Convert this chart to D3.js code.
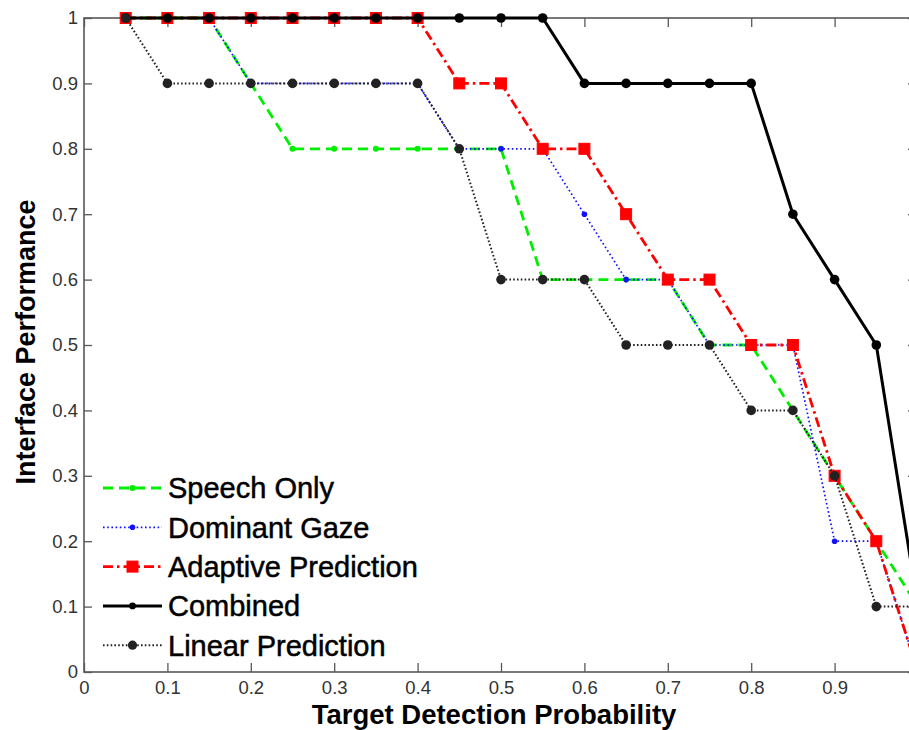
<!DOCTYPE html>
<html>
<head>
<meta charset="utf-8">
<script src="https://cdn.jsdelivr.net/npm/d3@7"></script>
<style>
  html, body { margin: 0; padding: 0; background: #fff; overflow: hidden; }
  svg { display: block; }
</style>
</head>
<body>
<svg id="chart" width="909" height="730"></svg>
<script>
// Target detection probability (x) and interface performance (y) per method
const probability = [0.05, 0.1, 0.15, 0.2, 0.25, 0.3, 0.35, 0.4, 0.45, 0.5,
                     0.55, 0.6, 0.65, 0.7, 0.75, 0.8, 0.85, 0.9, 0.95, 1.0];

const speechOnly        = [1, 1, 1, 0.9, 0.8, 0.8, 0.8, 0.8, 0.8, 0.8,
                           0.6, 0.6, 0.6, 0.6, 0.5, 0.5, 0.4, 0.3, 0.2, 0.1];
const dominantGaze      = [1, 1, 1, 0.9, 0.9, 0.9, 0.9, 0.9, 0.8, 0.8,
                           0.8, 0.7, 0.6, 0.6, 0.5, 0.5, 0.5, 0.2, 0.2, 0];
const adaptivePrediction= [1, 1, 1, 1, 1, 1, 1, 1, 0.9, 0.9,
                           0.8, 0.8, 0.7, 0.6, 0.6, 0.5, 0.5, 0.3, 0.2, 0];
const combined          = [1, 1, 1, 1, 1, 1, 1, 1, 1, 1,
                           1, 0.9, 0.9, 0.9, 0.9, 0.9, 0.7, 0.6, 0.5, 0.1];
const linearPrediction  = [1, 0.9, 0.9, 0.9, 0.9, 0.9, 0.9, 0.9, 0.8, 0.6,
                           0.6, 0.6, 0.5, 0.5, 0.5, 0.4, 0.4, 0.3, 0.1, 0.1];

const seriesNames = ["Speech Only", "Dominant Gaze", "Adaptive Prediction", "Combined", "Linear Prediction"];

const xTicks = [0, 0.1, 0.2, 0.3, 0.4, 0.5, 0.6, 0.7, 0.8, 0.9, 1];
const xTickLabels = ["0", "0.1", "0.2", "0.3", "0.4", "0.5", "0.6", "0.7", "0.8", "0.9", ""];
const yTicks = [0, 0.1, 0.2, 0.3, 0.4, 0.5, 0.6, 0.7, 0.8, 0.9, 1];
const yTickLabels = ["0", "0.1", "0.2", "0.3", "0.4", "0.5", "0.6", "0.7", "0.8", "0.9", "1"];

const xLabel = "Target Detection Probability";
const yLabel = "Interface Performance";

// Line/marker styling for each method
const styles = [
  { color: "#00ee00", width: 2.8, dash: "10,6",       marker: "dot",    size: 3.0, legendSize: 3.0 },
  { color: "#1010ff", width: 1.7, dash: "1.6,2.6",    marker: "dot",    size: 2.8, legendSize: 2.8 },
  { color: "#ff0000", width: 2.8, dash: "10,4,2.5,4", marker: "square", size: 11,  legendSize: 11 },
  { color: "#000000", width: 3.0, dash: null,         marker: "circle", size: 4.8, legendSize: 3.4 },
  { color: "#222222", width: 2.0, dash: "1.6,2.2",    marker: "circle", size: 4.8, legendSize: 4.6 }
];
const seriesValues = [speechOnly, dominantGaze, adaptivePrediction, combined, linearPrediction];

(function drawChart() {
  const svg = d3.select("#chart");
  const plotLeft = 84, plotRight = 918, plotTop = 18, plotBottom = 672;

  const x = d3.scaleLinear().domain([0, 1]).range([plotLeft, plotRight]);
  const y = d3.scaleLinear().domain([0, 1]).range([plotBottom, plotTop]);

  const font = "'Liberation Sans', Arial, Helvetica, sans-serif";
  const axisColor = "#585858";

  // Axes box with inward ticks on all four sides
  function styleAxis(g) {
    g.selectAll(".domain").remove();
    g.selectAll(".tick line").attr("stroke", axisColor).attr("stroke-width", 1.3);
    g.selectAll(".tick text")
      .attr("fill", "#333")
      .style("font-family", font)
      .style("font-size", "18.5px");
  }

  svg.append("rect")
    .attr("x", plotLeft).attr("y", plotTop)
    .attr("width", plotRight - plotLeft).attr("height", plotBottom - plotTop)
    .attr("fill", "none").attr("stroke", axisColor).attr("stroke-width", 1.6);

  svg.append("g")
    .attr("transform", `translate(0,${plotBottom})`)
    .call(d3.axisBottom(x).tickValues(xTicks).tickSizeInner(-9).tickSizeOuter(0)
          .tickPadding(9).tickFormat((d, i) => xTickLabels[i]))
    .call(styleAxis);

  svg.append("g")
    .attr("transform", `translate(0,${plotTop})`)
    .call(d3.axisTop(x).tickValues(xTicks).tickSizeInner(-9).tickSizeOuter(0).tickFormat(""))
    .call(styleAxis);

  svg.append("g")
    .attr("transform", `translate(${plotLeft},0)`)
    .call(d3.axisLeft(y).tickValues(yTicks).tickSizeInner(-8).tickSizeOuter(0)
          .tickPadding(6).tickFormat((d, i) => yTickLabels[i]))
    .call(styleAxis);

  svg.append("g")
    .attr("transform", `translate(${plotRight},0)`)
    .call(d3.axisRight(y).tickValues(yTicks).tickSizeInner(-10).tickSizeOuter(0).tickFormat(""))
    .call(styleAxis);

  // Axis titles
  svg.append("text")
    .attr("x", 494).attr("y", 724)
    .attr("text-anchor", "middle")
    .style("font-family", font).style("font-size", "27.5px").style("font-weight", "bold")
    .attr("fill", "#000")
    .text(xLabel);

  svg.append("text")
    .attr("transform", "translate(35,342) rotate(-90)")
    .attr("text-anchor", "middle")
    .style("font-family", font).style("font-size", "27px").style("font-weight", "bold")
    .attr("fill", "#000")
    .text(yLabel);

  // Marker drawing helper
  function drawMarker(g, type, cx, cy, size, color) {
    if (type === "square") {
      g.append("rect")
        .attr("x", cx - size / 2).attr("y", cy - size / 2)
        .attr("width", size).attr("height", size)
        .attr("fill", color).attr("stroke", color).attr("stroke-width", 1);
    } else {
      g.append("circle")
        .attr("cx", cx).attr("cy", cy).attr("r", size)
        .attr("fill", color);
    }
  }

  const line = d3.line().x(d => x(d[0])).y(d => y(d[1]));

  seriesValues.forEach((vals, i) => {
    const st = styles[i];
    const pts = probability.map((p, j) => [p, vals[j]]);
    const g = svg.append("g");
    g.append("path")
      .datum(pts)
      .attr("d", line)
      .attr("fill", "none")
      .attr("stroke", st.color)
      .attr("stroke-width", st.width)
      .attr("stroke-dasharray", st.dash)
      .attr("stroke-linejoin", "round");
    pts.forEach(p => drawMarker(g, st.marker, x(p[0]), y(p[1]), st.size, st.color));
  });

  // Legend
  const legend = svg.append("g");
  const legendX0 = 103, legendX1 = 162, legendTextX = 168;
  const legendY0 = 488, legendStep = 39.3;
  seriesNames.forEach((name, i) => {
    const st = styles[i];
    const cy = legendY0 + i * legendStep;
    legend.append("line")
      .attr("x1", legendX0).attr("x2", legendX1)
      .attr("y1", cy).attr("y2", cy)
      .attr("stroke", st.color).attr("stroke-width", st.width)
      .attr("stroke-dasharray", st.dash);
    drawMarker(legend, st.marker, (legendX0 + legendX1) / 2, cy, st.legendSize, st.color);
    legend.append("text")
      .attr("x", legendTextX).attr("y", cy).attr("dy", "0.36em")
      .style("font-family", font).style("font-size", "29px")
      .attr("fill", "#000")
      .attr("stroke", "#000").attr("stroke-width", 0.5)
      .text(name);
  });
})();
</script>
</body>
</html>
